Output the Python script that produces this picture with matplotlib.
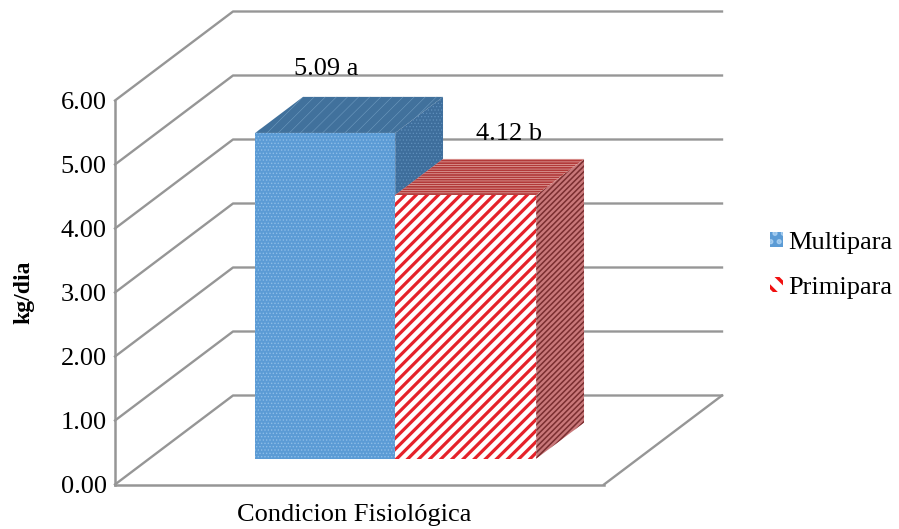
import matplotlib
matplotlib.use("Agg")
import matplotlib.pyplot as plt
from matplotlib.patches import Polygon, Patch

plt.rcParams['font.family'] = ['Liberation Serif', 'DejaVu Serif']

# Data
categories = ["Condicion Fisiológica"]
series_names = ["Multipara", "Primipara"]
series_values = [5.09, 4.12]
value_labels = ["5.09 a", "4.12 b"]
y_ticks = [0, 1, 2, 3, 4, 5, 6]
y_tick_labels = ["0.00", "1.00", "2.00", "3.00", "4.00", "5.00", "6.00"]
y_label = "kg/dia"

W, H = 899, 529
PX_PER_UNIT = 64.0
FS = 19
fig = plt.figure(figsize=(W / 100, H / 100), dpi=100, facecolor="white")
ax = fig.add_axes([115 / W, (H - 484.5) / H, (W - 115) / W, 484.5 / H])
ax.set_xlim(0, W - 115)
ax.set_ylim(0, 484.5 / PX_PER_UNIT)

# 3D box geometry (x in px from the axis; depth in px)
FLOOR_W = 489
DEPTH_X = 118
DEPTH_Y = 89 / PX_PER_UNIT
GRID = "#969696"

def proj(x, v, d):
    """x along the floor, value v, depth d (0 front .. 1 back)."""
    return (x + DEPTH_X * d, v + DEPTH_Y * d)

# Walls and gridlines
for t in y_ticks:
    ax.plot(*zip(proj(0, t, 0), proj(0, t, 1), proj(FLOOR_W, t, 1)),
            color=GRID, lw=1.7, zorder=1, clip_on=False, solid_joinstyle="round")
ax.plot(*zip(proj(FLOOR_W, 0, 1), proj(FLOOR_W, 0, 0)), color=GRID, lw=1.7, zorder=1)

BAR_X = [(106, 246), (246, 387)]
D0, D1 = 0.29, 0.695
styles = [
    dict(front=("#5B9BD5", "#8DBDE8", ".....", 0.6),
         side=("#3E6E9C", "#6090BC", ".....", 0.5),
         top=("#41719C", "#6E9ABF", "///", 0.4)),
    dict(front=("#FFFFFF", "#E5222A", "///", 2.3),
         side=("#C9787A", "#7A2E30", "//////", 1.1),
         top=("#EFC4BE", "#B23A3A", "-------", 1.3)),
]

def face(pts, spec, z):
    fc, hc, hatch, lw = spec
    p = Polygon(pts, closed=True, facecolor=fc, edgecolor=hc, linewidth=0,
                hatch=hatch, zorder=z)
    p.set_hatch_linewidth(lw)
    ax.add_patch(p)

for i, (val, (x0, x1), st) in enumerate(zip(series_values, BAR_X, styles)):
    z = 2 + i
    face([proj(x1, 0, D0), proj(x1, 0, D1), proj(x1, val, D1), proj(x1, val, D0)], st["side"], z)
    face([proj(x0, val, D0), proj(x1, val, D0), proj(x1, val, D1), proj(x0, val, D1)], st["top"], z)
    face([proj(x0, 0, D0), proj(x1, 0, D0), proj(x1, val, D0), proj(x0, val, D0)], st["front"], z + 0.5)

# Value labels
label_x = [211, 394]
label_v = [6.5, 5.48]
for lx, lv, s in zip(label_x, label_v, value_labels):
    ax.text(lx, lv, s, ha="center", va="center", fontsize=FS, color="black", zorder=6)

# Axes
for s in ("top", "right"):
    ax.spines[s].set_visible(False)
ax.spines["left"].set_bounds(0, 6)
ax.spines["bottom"].set_bounds(0, FLOOR_W)
for s in ("left", "bottom"):
    ax.spines[s].set_color(GRID)
    ax.spines[s].set_linewidth(1.8)
ax.set_yticks(y_ticks, y_tick_labels, fontsize=FS)
ax.set_xticks([239], categories, fontsize=FS)
ax.tick_params(axis="both", length=0)
ax.tick_params(axis="y", pad=6)
ax.tick_params(axis="x", pad=14)
ax.set_ylabel(y_label, fontsize=17, fontweight="bold")
ax.yaxis.set_label_coords(-81 / (W - 115), (484 - 292) / 484)

# Legend
plt.rcParams['hatch.linewidth'] = 2.5
handles = [
    Patch(facecolor="#5B9BD5", edgecolor="#A5CDF0", hatch="..", linewidth=0, label=series_names[0]),
    Patch(facecolor="#FFFFFF", edgecolor="#F01010", hatch="\\\\", linewidth=0, label=series_names[1]),
]
leg = ax.legend(handles=handles, loc="center left", bbox_to_anchor=(655 / (W - 115), (484 - 265.5) / 484),
                frameon=False, fontsize=FS, handlelength=0.5, handleheight=0.5,
                handletextpad=0.2, labelspacing=0.87, borderpad=0, borderaxespad=0)

fig.savefig("out.png", dpi=100)
